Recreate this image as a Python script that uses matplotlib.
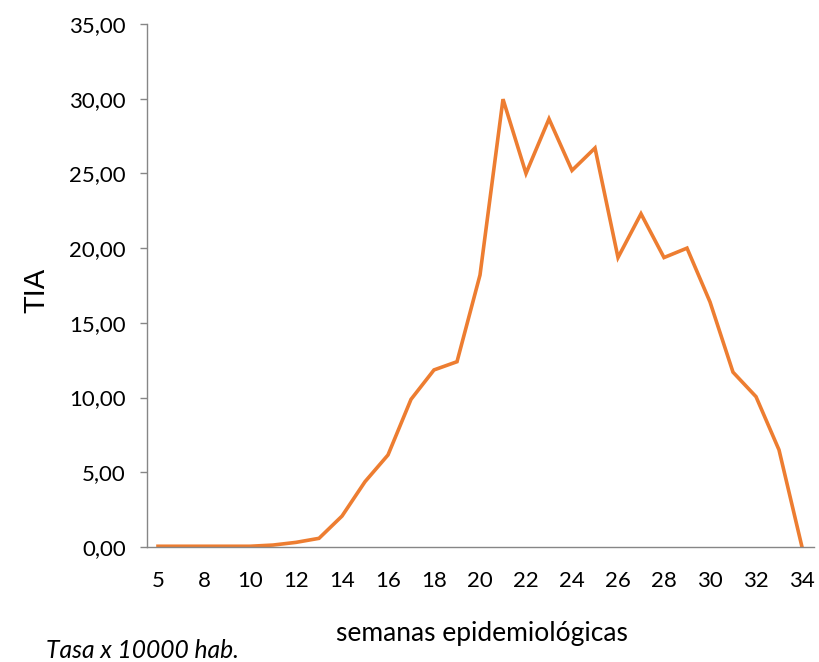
import numpy as np
import matplotlib
matplotlib.use("Agg")
import matplotlib.pyplot as plt
from matplotlib.ticker import FuncFormatter

# semanas epidemiológicas (categorías) y tasa de incidencia acumulada
semanas = [5, 7, 8, 9, 10, 11, 12, 13, 14, 15, 16, 17, 18, 19, 20,
           21, 22, 23, 24, 25, 26, 27, 28, 29, 30, 31, 32, 33, 34]
tia = [0.05, 0.05, 0.05, 0.05, 0.05, 0.13, 0.31, 0.58, 2.07, 4.37, 6.16,
       9.88, 11.85, 12.40, 18.20, 29.97, 25.00, 28.65, 25.20, 26.70,
       19.37, 22.30, 19.37, 20.00, 16.40, 11.70, 10.06, 6.50, 0.00]

gris = '#868686'
naranja = '#ED7D31'

fig = plt.figure(figsize=(8.19, 6.62), dpi=100)
ax = fig.add_axes([146.5/819, 115/662, 667/819, 523/662])

x = np.arange(len(semanas))
ax.plot(x, tia, color=naranja, lw=2.6, solid_joinstyle='miter')

ax.set_xlim(-0.5, len(semanas) - 0.5)
ax.set_ylim(0, 35)
ax.set_yticks(np.arange(0, 36, 5))
ax.yaxis.set_major_formatter(FuncFormatter(lambda v, p: f'{v:.2f}'.replace('.', ',')))
ax.set_xticks(x[::2])
ax.set_xticklabels([str(s) for s in semanas[::2]])

for lado in ['top', 'right']:
    ax.spines[lado].set_visible(False)
for lado in ['left', 'bottom']:
    ax.spines[lado].set_color(gris)
    ax.spines[lado].set_linewidth(1.0)

ax.tick_params(axis='y', direction='out', length=5, width=1, color=gris,
               pad=10, labelsize=16)
ax.tick_params(axis='x', length=0, pad=17, labelsize=16)
for t in ax.get_xticklabels() + ax.get_yticklabels():
    t.set_family('Lato')

fig.text(482/819, 1 - 633/662, 'semanas epidemiológicas', ha='center', va='center',
         fontsize=19, family='Lato')
fig.text(36/819, 1 - 290/662, 'TIA', ha='center', va='center', rotation=90,
         fontsize=21, family='Liberation Sans')
fig.text(46/819, 1 - 651/662, 'Tasa x 10000 hab.', ha='left', va='center',
         fontsize=17.7, family='Lato', style='italic')

fig.savefig('out.png', dpi=100)
